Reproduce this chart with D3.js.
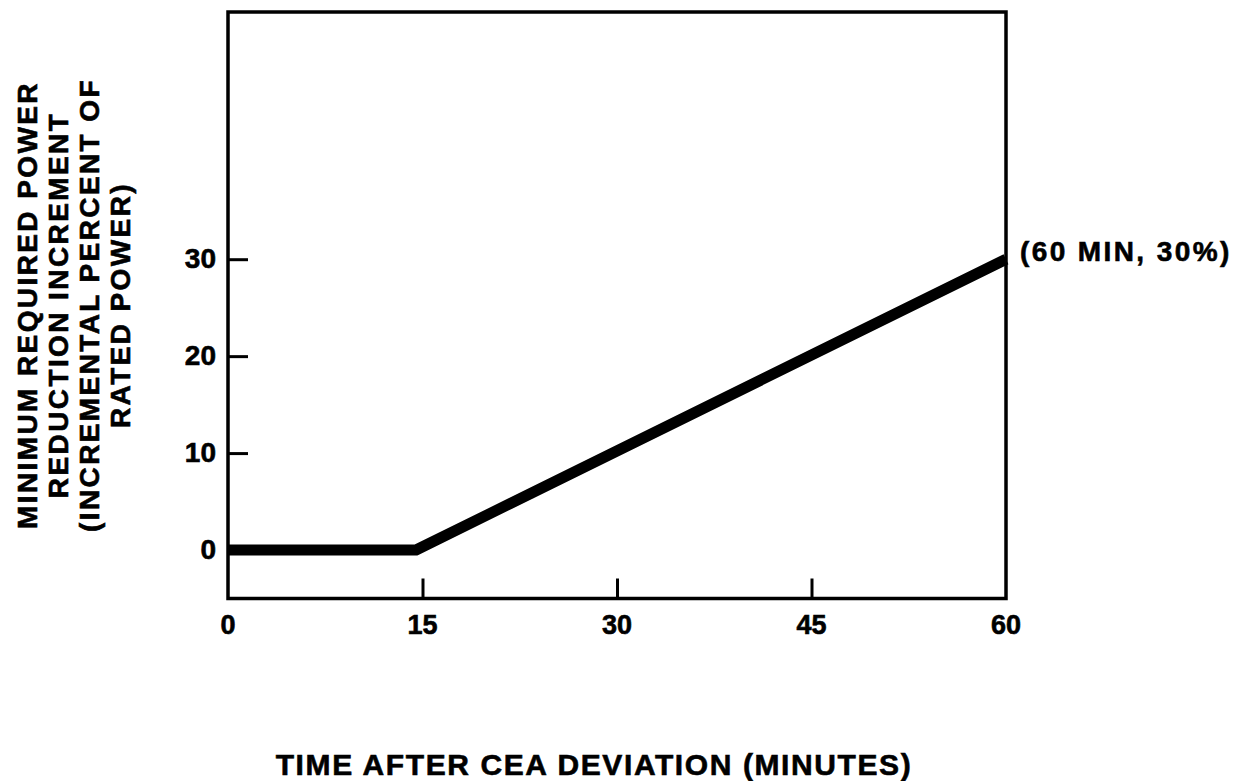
<!DOCTYPE html>
<html>
<head>
<meta charset="utf-8">
<script src="https://cdn.jsdelivr.net/npm/d3@7"></script>
<style>
  html, body { margin: 0; padding: 0; background: #fff; }
  svg { display: block; }
  text { font-family: "Liberation Sans", Arial, sans-serif; font-weight: bold; fill: #000; stroke: #000; stroke-width: 0.6px; }
</style>
</head>
<body>
<svg id="chart" width="1239" height="781"></svg>
<script>
// ---- data ----
const timeMinutes = [0, 14.5, 60];
const powerReduction = [0, 0, 30];
const xTicks = [0, 15, 30, 45, 60];
const yTicks = [0, 10, 20, 30];
const yLabelLines = ["MINIMUM REQUIRED POWER", "REDUCTION INCREMENT", "(INCREMENTAL PERCENT OF", "RATED POWER)"];
const xLabel = "TIME AFTER CEA DEVIATION (MINUTES)";
const endNote = "(60 MIN, 30%)";

const svg = d3.select("#chart");
const plotLeft = 228, plotRight = 1006, plotTop = 12, plotBottom = 598.5;

const x = d3.scaleLinear().domain([0, 60]).range([plotLeft, plotRight]);
const y = d3.scaleLinear().domain([-5, 55.5]).range([plotBottom, plotTop]);

// frame
svg.append("rect")
  .attr("x", plotLeft).attr("y", plotTop)
  .attr("width", plotRight - plotLeft).attr("height", plotBottom - plotTop)
  .attr("fill", "none").attr("stroke", "#000").attr("stroke-width", 3.5);

// y axis (ticks inward)
const yAxis = d3.axisRight(y).tickValues(yTicks).tickSize(20).tickFormat("");
const gy = svg.append("g").attr("transform", `translate(${plotLeft},0)`).call(yAxis);
gy.select(".domain").remove();
gy.selectAll(".tick line").attr("stroke", "#000").attr("stroke-width", 3);

svg.append("g").selectAll("text").data(yTicks).join("text")
  .attr("x", 216).attr("y", d => y(d) + 9)
  .attr("text-anchor", "end")
  .style("font-size", "28px")
  .text(d => d);

// x axis (ticks inward)
const xAxis = d3.axisTop(x).tickValues(xTicks.filter(d => d > 0 && d < 60)).tickSize(20).tickFormat("");
const gx = svg.append("g").attr("transform", `translate(0,${plotBottom})`).call(xAxis);
gx.select(".domain").remove();
gx.selectAll(".tick line").attr("stroke", "#000").attr("stroke-width", 3);

svg.append("g").selectAll("text").data(xTicks).join("text")
  .attr("x", d => x(d)).attr("y", 634)
  .attr("text-anchor", "middle")
  .style("font-size", "27px")
  .text(d => d);

// data line
const pts = timeMinutes.map((t, i) => [t, powerReduction[i]]);
svg.append("path")
  .datum(pts)
  .attr("fill", "none").attr("stroke", "#000").attr("stroke-width", 11)
  .attr("stroke-linejoin", "round")
  .attr("d", d3.line().x(d => x(d[0])).y(d => y(d[1])));

// end annotation
svg.append("text")
  .attr("x", 1020).attr("y", 261)
  .style("font-size", "28px").style("letter-spacing", "2.4px")
  .text(endNote);

// y label
const yl = svg.append("text")
  .attr("transform", "translate(0,305) rotate(-90)")
  .attr("text-anchor", "middle")
  .style("font-size", "28px").style("letter-spacing", "2.4px");
yLabelLines.forEach((s, i) => {
  yl.append("tspan").attr("x", 0).attr("y", 37 + i * 31).text(s);
});

// x label
svg.append("text")
  .attr("x", 594).attr("y", 775)
  .attr("text-anchor", "middle")
  .style("font-size", "30px").style("letter-spacing", "1.6px")
  .text(xLabel);
</script>
</body>
</html>
